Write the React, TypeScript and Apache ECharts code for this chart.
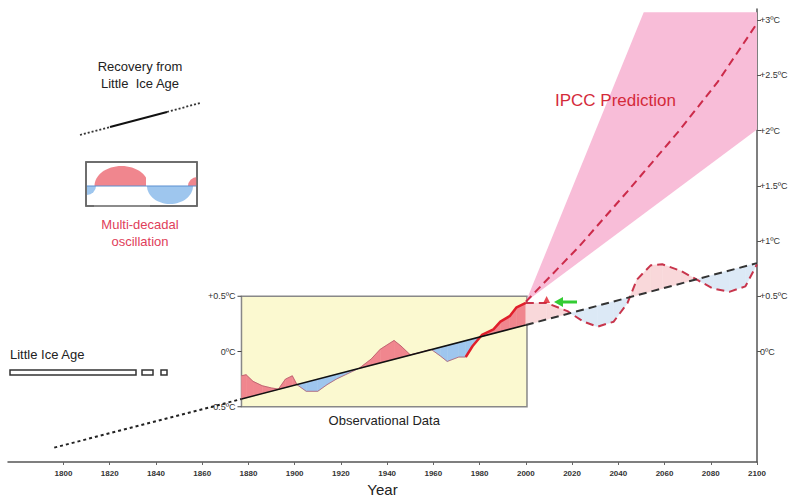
import { useEffect, useRef } from "react";
import * as echarts from "echarts";

const FONT = '"Liberation Sans", Arial, sans-serif';

// observed anomaly (year, ºC)
const OBS: [number, number][] = [
  [1877, -0.22], [1879, -0.21], [1882, -0.27], [1886, -0.31], [1890, -0.33], [1893, -0.34],
  [1896, -0.25], [1899, -0.22], [1901, -0.3], [1905, -0.36], [1910, -0.36], [1914, -0.3],
  [1918, -0.25], [1922, -0.21], [1928, -0.15], [1933, -0.07], [1937, 0.02], [1943, 0.1],
  [1946, 0.05], [1950, -0.03], [1954, -0.01], [1959, 0.02], [1963, -0.04], [1966, -0.09],
  [1971, -0.05], [1974, -0.05], [1977, 0.05], [1981, 0.15], [1986, 0.2], [1989, 0.27],
  [1993, 0.32], [1996, 0.4], [2000, 0.44],
];
const RECENT_FROM = 1974;

// projected oscillation
const FUTURE: [number, number][] = [
  [2000, 0.44], [2009, 0.44], [2018, 0.365], [2025, 0.27], [2031, 0.225], [2038, 0.27],
  [2044, 0.44], [2048, 0.65], [2054, 0.78], [2059, 0.79], [2067, 0.73], [2074, 0.65],
  [2081, 0.57], [2088, 0.54], [2095, 0.59], [2100, 0.79],
];

const TREND_DOTTED: [number, number][] = [[1796, -0.87], [1877, -0.43]];
const TREND_SOLID: [number, number][] = [[1877, -0.43], [2000, 0.24]];
const TREND_DASHED: [number, number][] = [[2000, 0.24], [2100, 0.8]];

const IPCC_LINE: [number, number][] = [[2000, 0.45], [2023, 0.95], [2044, 1.45], [2066, 1.99], [2083, 2.44], [2100, 2.97]];
const BAND_UPPER: [number, number][] = [[2000, 0.45], [2051, 3.07], [2100, 3.07]];
const BAND_LOWER: [number, number][] = [[2000, 0.45], [2100, 2.01]];

const X_LABELS = [1800, 1820, 1840, 1860, 1880, 1900, 1920, 1940, 1960, 1980, 2000, 2020, 2040, 2060, 2080, 2100];
const Y_LABELS = [0, 0.5, 1, 1.5, 2, 2.5, 3];
const BOX_LABELS = [0.5, 0, -0.5];
const BOX_X: [number, number] = [1877, 2000.5];

const TREND_ALL = [...TREND_DOTTED, ...TREND_SOLID.slice(1), ...TREND_DASHED.slice(1)];
function trendAt(x: number) {
  for (let i = 0; i < TREND_ALL.length - 1; i++) {
    const [x1, y1] = TREND_ALL[i];
    const [x2, y2] = TREND_ALL[i + 1];
    if (x >= x1 && x <= x2) return y1 + ((x - x1) / (x2 - x1)) * (y2 - y1);
  }
  return TREND_ALL[TREND_ALL.length - 1][1];
}

function fillSeries(pts: [number, number][], up: string, down: string) {
  return {
    type: "custom",
    silent: true,
    clip: false,
    z: 2,
    data: pts,
    encode: { x: 0, y: 1 },
    renderItem: (params: any, api: any) => {
      const i = params.dataIndex;
      if (i >= pts.length - 1) return null;
      const [x1, y1] = pts[i];
      const [x2, y2] = pts[i + 1];
      const t1 = trendAt(x1), t2 = trendAt(x2);
      const d1 = y1 - t1, d2 = y2 - t2;
      const poly = (a: number[][], col: string) => ({
        type: "polygon",
        shape: { points: a.map((p) => api.coord(p)) },
        style: { fill: col, stroke: col, lineWidth: 0.5 },
      });
      if (d1 * d2 < 0) {
        const r = d1 / (d1 - d2);
        const xm = x1 + r * (x2 - x1);
        const ym = t1 + r * (t2 - t1);
        return {
          type: "group",
          children: [
            poly([[x1, y1], [xm, ym], [x1, t1]], d1 > 0 ? up : down),
            poly([[xm, ym], [x2, y2], [x2, t2]], d2 > 0 ? up : down),
          ],
        };
      }
      return poly([[x1, y1], [x2, y2], [x2, t2], [x1, t1]], d1 + d2 > 0 ? up : down);
    },
  };
}

const line = (data: [number, number][], color: string, width: number, type: any, z = 3) => ({
  type: "line",
  data,
  symbol: "none",
  silent: true,
  z,
  lineStyle: { color, width, type },
});

export default function App() {
  const ref = useRef<HTMLDivElement>(null);

  useEffect(() => {
    document.body.style.margin = "0";
    if (!ref.current) return;
    const chart = echarts.init(ref.current, null, { renderer: "svg" });
    const option: any = {
      animation: false,
      textStyle: { fontFamily: FONT },
      grid: { left: 8, right: 42, top: 9, bottom: 33, outerBoundsMode: "none", containLabel: false },
      xAxis: {
        type: "value",
        min: 1776,
        max: 2100,
        name: "Year",
        nameLocation: "middle",
        nameGap: 13,
        nameTextStyle: { fontSize: 15, color: "#222", fontFamily: FONT },
        axisLine: { onZero: false, lineStyle: { color: "#555", width: 1.5 } },
        axisTick: { customValues: X_LABELS, length: 3, lineStyle: { color: "#666" } },
        axisLabel: {
          customValues: X_LABELS,
          fontSize: 8,
          fontWeight: "bold",
          color: "#333",
          margin: 7,
          formatter: (v: number) => String(v),
        },
        splitLine: { show: false },
      },
      yAxis: {
        type: "value",
        position: "right",
        min: -1,
        max: 3.1,
        axisLine: { show: true, onZero: false, lineStyle: { color: "#555", width: 1.5 } },
        axisTick: { show: true, customValues: Y_LABELS, length: 4, inside: false, lineStyle: { color: "#555" } },
        axisLabel: {
          customValues: Y_LABELS,
          fontSize: 9,
          color: "#333",
          margin: 3,
          formatter: (v: number) => (v === 0 ? "0ºC" : "+" + v + "ºC"),
        },
        splitLine: { show: false },
      },
      series: [
        // observation box
        {
          type: "custom",
          silent: true,
          clip: false,
          z: 1,
          data: [0],
          renderItem: (_p: any, api: any) => {
            const a = api.coord([BOX_X[0], 0.5]);
            const b = api.coord([BOX_X[1], -0.5]);
            return {
              type: "group",
              children: [
                {
                  type: "rect",
                  shape: { x: a[0], y: a[1], width: b[0] - a[0], height: b[1] - a[1] },
                  style: { fill: "#fbf9d0", stroke: "#888", lineWidth: 1.5 },
                },
                ...BOX_LABELS.map((v) => {
                  const c = api.coord([BOX_X[0], v]);
                  return {
                    type: "text",
                    x: c[0] - 6,
                    y: c[1],
                    style: {
                      text: v === 0 ? "0ºC" : (v > 0 ? "+" : "") + v + "ºC",
                      align: "right",
                      verticalAlign: "middle",
                      fontSize: 9,
                      fill: "#333",
                      fontFamily: FONT,
                    },
                  };
                }),
                ...BOX_LABELS.map((v) => {
                  const c = api.coord([BOX_X[0], v]);
                  return { type: "line", shape: { x1: c[0] - 4, y1: c[1], x2: c[0], y2: c[1] }, style: { stroke: "#444", lineWidth: 1 } };
                }),
                {
                  type: "text",
                  x: (a[0] + b[0]) / 2,
                  y: b[1] + 14,
                  style: { text: "Observational Data", align: "center", verticalAlign: "middle", fontSize: 13, fill: "#222", fontFamily: FONT },
                },
              ],
            };
          },
        },
        // IPCC band
        {
          type: "custom",
          silent: true,
          clip: false,
          z: 1,
          data: [0],
          renderItem: (_p: any, api: any) => ({
            type: "polygon",
            shape: { points: [...BAND_UPPER, ...[...BAND_LOWER].reverse()].map((p) => api.coord(p)) },
            style: { fill: "#f8bdd8" },
          }),
        },
        fillSeries(OBS, "#f0868e", "#9ec6ee"),
        fillSeries(FUTURE, "#f9d8da", "#dce9f6"),
        line(OBS, "#b45a6a", 0.8, "solid"),
        line(OBS.filter((p) => p[0] >= RECENT_FROM), "#e01f2b", 2.5, "solid", 4),
        line(FUTURE, "#c8354c", 2, [8, 5], 4),
        line(TREND_SOLID, "#111", 1.5, "solid", 5),
        line(TREND_DOTTED, "#222", 2, [3, 3], 5),
        line(TREND_DASHED, "#333", 2, [8, 5], 5),
        line(IPCC_LINE, "#cc2b4a", 2, [8, 5], 5),
        {
          type: "scatter",
          data: [[2009, 0.47]],
          symbol: "triangle",
          symbolSize: 7,
          itemStyle: { color: "#e01f2b" },
          z: 6,
          silent: true,
        },
      ],
      graphic: [
        { type: "text", x: 555, y: 100, z: 100, style: { text: "IPCC Prediction", fontSize: 17, fill: "#d42a3a", verticalAlign: "middle", fontFamily: FONT } },
        // green arrow
        { type: "line", shape: { x1: 562, y1: 302, x2: 577, y2: 302 }, style: { stroke: "#33cc33", lineWidth: 3 } },
        { type: "polygon", shape: { points: [[554, 302], [563, 297], [563, 307]] }, style: { fill: "#33cc33" } },
        // recovery legend
        { type: "text", x: 140, y: 66, style: { text: "Recovery from", fontSize: 13, fill: "#222", align: "center", verticalAlign: "middle", fontFamily: FONT } },
        { type: "text", x: 140, y: 83, style: { text: "Little  Ice Age", fontSize: 13, fill: "#222", align: "center", verticalAlign: "middle", fontFamily: FONT } },
        { type: "line", shape: { x1: 80, y1: 135, x2: 110, y2: 127 }, style: { stroke: "#333", lineWidth: 1.8, lineDash: [2, 2] } },
        { type: "line", shape: { x1: 110, y1: 127, x2: 167, y2: 112 }, style: { stroke: "#111", lineWidth: 2 } },
        { type: "line", shape: { x1: 167, y1: 112, x2: 200, y2: 103 }, style: { stroke: "#333", lineWidth: 1.8, lineDash: [2, 2] } },
        // oscillation legend
        { type: "rect", shape: { x: 86, y: 162, width: 111, height: 44 }, style: { fill: "#fff", stroke: "#666", lineWidth: 1.5 } },
        { type: "ellipse", shape: { cx: 121.5, cy: 186, rx: 27, ry: 20 }, style: { fill: "#f0868e" } },
        { type: "rect", shape: { x: 94, y: 186, width: 56, height: 21 }, style: { fill: "#fff" } },
        { type: "ellipse", shape: { cx: 170, cy: 186, rx: 23, ry: 18 }, style: { fill: "#9ec6ee" } },
        { type: "rect", shape: { x: 146, y: 166, width: 48, height: 20 }, style: { fill: "#fff" } },
        { type: "sector", shape: { cx: 87, cy: 186, r0: 0, r: 9, startAngle: 0, endAngle: Math.PI / 2 }, style: { fill: "#9ec6ee" } },
        { type: "sector", shape: { cx: 197, cy: 186, r0: 0, r: 9, startAngle: Math.PI, endAngle: Math.PI * 1.5 }, style: { fill: "#f0868e" } },
        { type: "line", shape: { x1: 86, y1: 186, x2: 197, y2: 186 }, style: { stroke: "#5a8fd0", lineWidth: 1 } },
        { type: "rect", shape: { x: 86, y: 162, width: 111, height: 44 }, style: { fill: "none", stroke: "#666", lineWidth: 1.5 } },
        { type: "text", x: 140, y: 224, style: { text: "Multi-decadal", fontSize: 13, fill: "#e0405a", align: "center", verticalAlign: "middle", fontFamily: FONT } },
        { type: "text", x: 140, y: 241, style: { text: "oscillation", fontSize: 13, fill: "#e0405a", align: "center", verticalAlign: "middle", fontFamily: FONT } },
        // little ice age
        { type: "text", x: 10, y: 354, style: { text: "Little Ice Age", fontSize: 13, fill: "#222", verticalAlign: "middle", fontFamily: FONT } },
        { type: "rect", shape: { x: 10, y: 370, width: 126, height: 5 }, style: { fill: "#fff", stroke: "#333", lineWidth: 1.5 } },
        { type: "rect", shape: { x: 142, y: 370, width: 11, height: 5 }, style: { fill: "#fff", stroke: "#333", lineWidth: 1.5 } },
        { type: "rect", shape: { x: 161, y: 370, width: 6, height: 5 }, style: { fill: "#fff", stroke: "#333", lineWidth: 1.5 } },
      ],
    };
    chart.setOption(option);
    return () => chart.dispose();
  }, []);

  return <div ref={ref} style={{ width: 799, height: 495 }} />;
}
